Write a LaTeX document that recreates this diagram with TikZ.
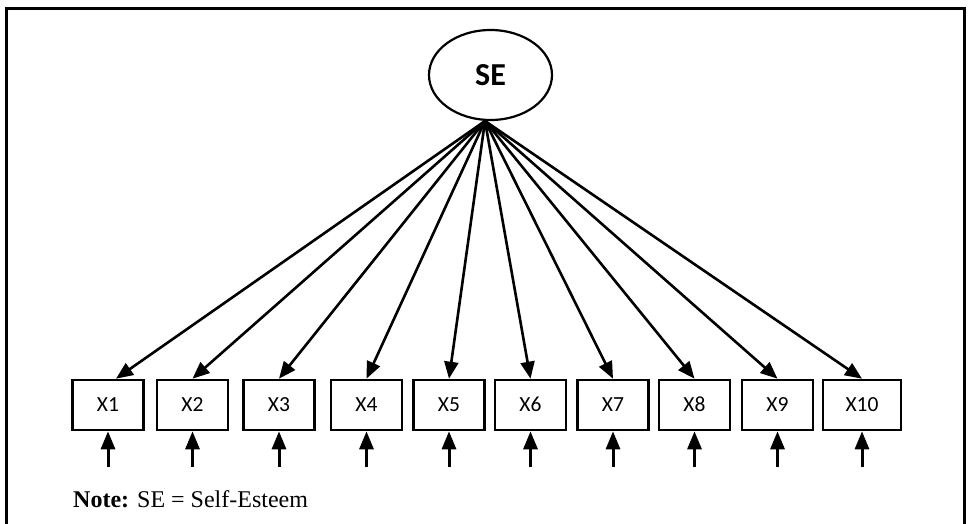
\documentclass[tikz,border=0pt]{standalone}
\usepackage{fontspec}
\setmainfont{Liberation Serif}
\newfontfamily\labelfont{Carlito}
\usetikzlibrary{arrows.meta,shapes.geometric}
\begin{document}
\begin{tikzpicture}[x=1pt,y=-1pt,
  item/.style={draw,line width=2.6pt,minimum width=71pt,minimum height=50pt,
    inner sep=0pt,text height=13.5pt,text depth=0pt,
    font=\labelfont\fontsize{21.5}{23}\selectfont},
  latent/.style={draw,ellipse,line width=2.2pt,minimum width=123pt,minimum height=90pt,
    inner sep=0pt,font=\labelfont\bfseries\fontsize{32}{34}\selectfont},
  load/.style={line width=2.6pt,-{Triangle[length=17pt,width=14pt]}},
  err/.style={line width=3pt,-{Triangle[length=18pt,width=14pt]}}]
\useasboundingbox (0,0) rectangle (970,524);
% outer frame (open at the bottom)
\draw[line width=3pt] (6.5,524) -- (6.5,8.5) -- (964,8.5) -- (964,524);
% latent factor
\node[latent] (se) at (490.5,75) {SE};
\coordinate (hub) at (485,121);
% indicators
\foreach \n/\x in {1/108,2/192.5,3/279,4/366.5,5/449,6/530.5,7/613,8/694.5,9/777.5}
  \node[item] (x\n) at (\x,405) {X\n};
\node[item,minimum width=78pt] (x10) at (862,405) {X10};
% loadings and error terms
\draw[load] (hub) -- ([xshift=8pt]x1.north);
\foreach \n/\x in {1/108,2/192.5,3/279,4/366.5,5/449,6/530.5,7/613,8/694.5,9/777.5,10/862}{
  \ifnum\n>1 \draw[load] (hub) -- (x\n.north);\fi
  \coordinate (e\n) at (\x,467);
  \draw[err] (e\n) -- (x\n.south);
}
\node[anchor=base west,inner sep=0pt,font=\fontsize{24}{26}\selectfont] (note) at (73,507)
  {\textbf{Note:} SE = Self-Esteem};
\end{tikzpicture}
\end{document}
